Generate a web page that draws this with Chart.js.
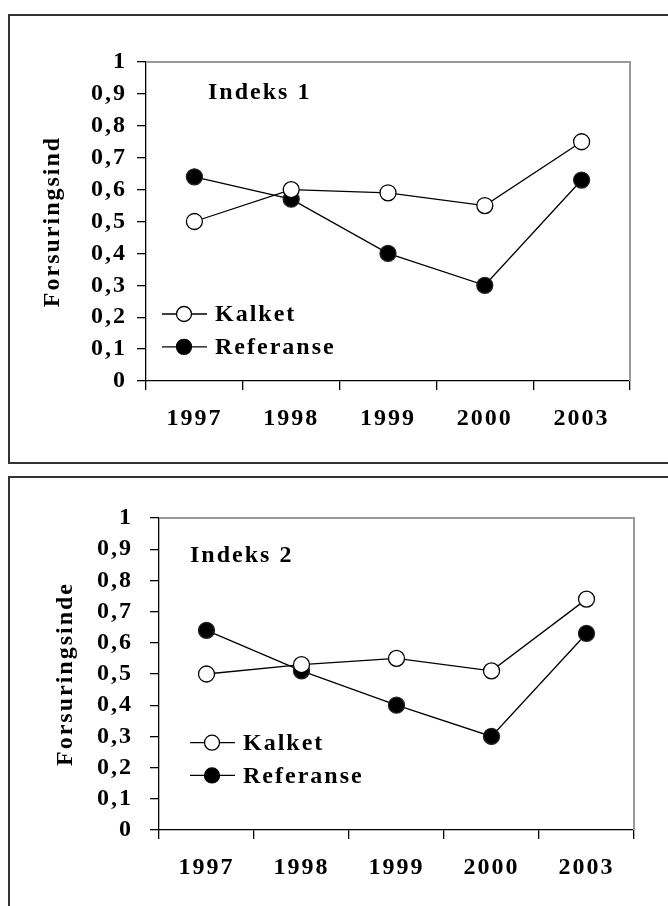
<!DOCTYPE html>
<html>
<head>
<meta charset="utf-8">
<script src="https://cdn.jsdelivr.net/npm/chart.js@4.4.1/dist/chart.umd.min.js"></script>
<style>
  html, body { margin: 0; padding: 0; background: #fff; width: 668px; height: 906px; overflow: hidden; position: relative; }
  .box { position: absolute; border: 2px solid #333; box-sizing: border-box; }
  canvas { position: absolute; left: 0; }
</style>
</head>
<body>
<div class="box" style="left:8px; top:14px; width:700px; height:450px;"></div>
<div class="box" style="left:8px; top:476px; width:700px; height:460px;"></div>
<canvas id="c1" width="668" height="470" style="top:0; width:668px; height:470px;"></canvas>
<canvas id="c2" width="668" height="436" style="top:470px; width:668px; height:436px;"></canvas>
<script>
// ---- data ----
const categories = ['1997', '1998', '1999', '2000', '2003'];
const seriesNames = ['Kalket', 'Referanse'];
const kalket1 = [0.50, 0.60, 0.59, 0.55, 0.75];
const referanse1 = [0.64, 0.57, 0.40, 0.30, 0.63];
const kalket2 = [0.50, 0.53, 0.55, 0.51, 0.74];
const referanse2 = [0.64, 0.51, 0.40, 0.30, 0.63];
const yTicks = [0, 0.1, 0.2, 0.3, 0.4, 0.5, 0.6, 0.7, 0.8, 0.9, 1];
const titles = ['Indeks 1', 'Indeks 2'];
const yTitles = ['Forsuringsind', 'Forsuringsinde'];

const FONT = 'Liberation Serif';
const FONT_SIZE = 24;
const SPACING = '2px';

function fmt(v) {
  if (Math.abs(v) < 1e-9) return '0';
  if (Math.abs(v - 1) < 1e-9) return '1';
  return v.toFixed(1).replace('.', ',');
}

function spacingPlugin() {
  return {
    id: 'spacing',
    beforeLayout(chart) { chart.ctx.letterSpacing = SPACING; },
    beforeDraw(chart) { chart.ctx.letterSpacing = SPACING; }
  };
}

function framePlugin(cfg) {
  return {
    id: 'frame',
    beforeDatasetsDraw(chart) {
      const { ctx, chartArea: a } = chart;
      ctx.save();
      ctx.strokeStyle = '#999';
      ctx.lineWidth = 2;
      ctx.beginPath();
      ctx.moveTo(a.left, a.top);
      ctx.lineTo(a.right, a.top);
      ctx.lineTo(a.right, a.bottom);
      ctx.stroke();
      ctx.restore();
    },
    afterDraw(chart) {
      const { ctx } = chart;
      const y = chart.scales.y;
      ctx.save();
      ctx.letterSpacing = SPACING;
      ctx.fillStyle = '#000';
      ctx.font = 'bold ' + FONT_SIZE + 'px "' + FONT + '"';
      ctx.textBaseline = 'middle';
      ctx.textAlign = 'left';
      // inner title
      ctx.fillText(cfg.title, cfg.titleX, y.getPixelForValue(cfg.titleVal));
      // legend
      const items = [
        { name: seriesNames[0], fill: '#fff', val: cfg.legVals[0] },
        { name: seriesNames[1], fill: '#000', val: cfg.legVals[1] }
      ];
      items.forEach(it => {
        const ly = y.getPixelForValue(it.val);
        ctx.strokeStyle = '#000';
        ctx.lineWidth = 1.3;
        ctx.beginPath();
        ctx.moveTo(cfg.legX, ly);
        ctx.lineTo(cfg.legX + 45, ly);
        ctx.stroke();
        ctx.beginPath();
        ctx.arc(cfg.legX + 22, ly, 7.5, 0, Math.PI * 2);
        ctx.fillStyle = it.fill;
        ctx.fill();
        ctx.stroke();
        ctx.fillStyle = '#000';
        ctx.fillText(it.name, cfg.legX + 53, ly + 1);
      });
      ctx.restore();
    }
  };
}

function makeChart(id, kal, ref, cfg) {
  const font = { family: FONT, size: FONT_SIZE, weight: 'bold' };
  return new Chart(document.getElementById(id), {
    type: 'line',
    data: {
      labels: categories,
      datasets: [
        { label: seriesNames[0], data: kal, borderColor: '#000', borderWidth: 1.3,
          pointBackgroundColor: '#fff', pointBorderColor: '#000', pointBorderWidth: 1.3,
          pointRadius: 8, tension: 0 },
        { label: seriesNames[1], data: ref, borderColor: '#000', borderWidth: 1.3,
          pointBackgroundColor: '#000', pointBorderColor: '#222', pointBorderWidth: 1.3,
          pointRadius: 8, tension: 0 }
      ]
    },
    options: {
      responsive: false,
      animation: false,
      devicePixelRatio: 1,
      layout: { padding: { left: 0, top: cfg.top, right: cfg.right, bottom: 0 } },
      plugins: { legend: { display: false }, tooltip: { enabled: false } },
      scales: {
        x: {
          offset: true,
          grid: { offset: true, drawOnChartArea: false, color: '#000', tickLength: 9, lineWidth: 1.3 },
          border: { color: '#000', width: 1.3 },
          ticks: { color: '#000', font: font, padding: cfg.xPad, maxRotation: 0, autoSkip: false },
          afterFit(s) { s.height = cfg.xHeight; }
        },
        y: {
          min: 0, max: 1,
          afterBuildTicks(s) { s.ticks = yTicks.map(v => ({ value: v })); },
          grid: { drawOnChartArea: false, color: '#000', tickLength: 9, lineWidth: 1.3 },
          border: { color: '#000', width: 1.3 },
          ticks: { color: '#000', font: font, padding: cfg.yPad, autoSkip: false, callback: v => fmt(v) },
          title: { display: true, text: cfg.yTitle, color: '#000', font: font, padding: { top: cfg.titlePad, bottom: 0 } },
          afterFit(s) { s.width = cfg.yWidth; }
        }
      }
    },
    plugins: [spacingPlugin(), framePlugin(cfg)]
  });
}

makeChart('c1', kalket1, referanse1, {
  top: 62, right: 38, yWidth: 146, xHeight: 89, xPad: 14, yPad: 10, titlePad: 38,
  yTitle: yTitles[0], title: titles[0], titleX: 208, titleVal: 0.905,
  legX: 162, legVals: [0.21, 0.107]
});
makeChart('c2', kalket2, referanse2, {
  top: 48, right: 34, yWidth: 159, xHeight: 76, xPad: 14, yPad: 17, titlePad: 51,
  yTitle: yTitles[1], title: titles[1], titleX: 190, titleVal: 0.88,
  legX: 190, legVals: [0.28, 0.175]
});
</script>
</body>
</html>
